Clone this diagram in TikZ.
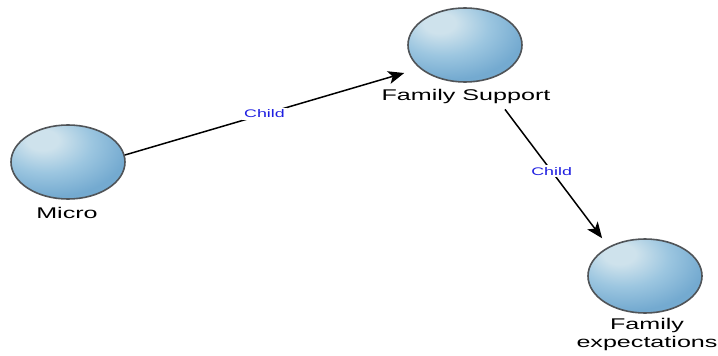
\documentclass[tikz,border=0pt]{standalone}
\usepackage{fontspec}
\usetikzlibrary{shapes.geometric,arrows.meta,calc}
\newfontfamily\widesans[FakeStretch=1.62]{Liberation Sans}
\definecolor{bubblehi}{RGB}{206,226,236}
\definecolor{bubblemid}{RGB}{156,198,224}
\definecolor{bubblebase}{RGB}{116,170,208}
\definecolor{bubbleedge}{RGB}{100,154,196}
\definecolor{bubbleline}{RGB}{80,84,88}
\definecolor{edgelabel}{RGB}{30,30,225}
\pgfdeclareradialshading{bubble}{\pgfpoint{-12bp}{16bp}}{%
  color(0bp)=(bubblehi); color(7bp)=(bubblehi); color(20bp)=(bubblemid);
  color(34bp)=(bubblebase); color(58bp)=(bubblebase); color(72bp)=(bubbleedge);
  color(100bp)=(bubbleedge)}
\tikzset{
  bubblenode/.style={ellipse, minimum width=114pt, minimum height=74pt,
    inner sep=0pt, draw=bubbleline, line width=1.6pt, shading=bubble},
  caption/.style={font=\widesans\fontsize{15.5pt}{18pt}\selectfont,
    inner sep=0pt, align=center},
  link/.style={line width=1.5pt, -{Stealth[length=16pt,width=13pt,inset=4pt]}},
  linklabel/.style={font=\widesans\fontsize{11pt}{12pt}\selectfont,
    text=edgelabel, fill=white, inner sep=2pt}
}
\begin{document}
\begin{tikzpicture}[x=1pt,y=-1pt]
  \useasboundingbox (0,0) rectangle (718,356);
  % topic bubbles
  \node[bubblenode] (micro) at (68,162) {};
  \node[bubblenode] (support) at (465,45) {};
  \node[bubblenode] (expect) at (645,276) {};
  % captions under the bubbles
  \node[caption] (microtext) at (67,213) {Micro};
  \node[caption] (supporttext) at (466,96) {Family Support};
  \node[caption, anchor=north] (expecttext) at (647,318) {Family\\expectations};
  % child links
  \draw[link] (micro.7) -- ($(support.west)+(-3,28)$)
    node[linklabel, pos=0.5] (childa) {Child};
  \draw[link] ($(supporttext.south)+(39,6)$) -- ($(expect.north west)+(-2,-11)$)
    node[linklabel, pos=0.48] (childb) {Child};
\end{tikzpicture}
\end{document}
